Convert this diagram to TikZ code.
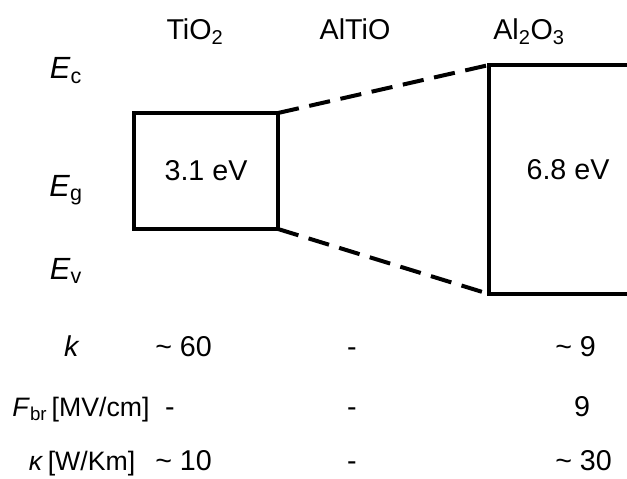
\documentclass[tikz,border=0pt]{standalone}
\usepackage{fontspec}
\setmainfont{Liberation Sans}
\usetikzlibrary{positioning}
\tikzset{
  txt/.style={font=\fontsize{21.5}{25}\selectfont,inner sep=0pt},
  cell/.style={txt,anchor=base},
  lvl/.style={font=\fontsize{23}{27}\selectfont,inner sep=0pt,anchor=base},
  band/.style={draw=black,line width=3pt},
  offset/.style={line width=3pt,dash pattern=on 16pt off 8pt},
}
\newcommand{\sub}[1]{\textsubscript{#1}}

\begin{document}
\begin{tikzpicture}[x=0.75pt,y=-0.75pt]
  \useasboundingbox (0,0) rectangle (627,478);
  % column heads
  \node[cell] (tio-head) at (195,40) {TiO\sub{2}};
  \node[cell] (alti-head) at (355,40) {AlTiO};
  \node[cell] (alo-head) at (529,40) {Al\sub{2}O\sub{3}};
  % energy labels
  \node[lvl] (ec) at (66,79) {\textit{E}\sub{c}};
  \node[lvl] (eg) at (66,196) {\textit{E}\sub{g}};
  \node[lvl] (ev) at (66,279) {\textit{E}\sub{v}};
  % band gaps
  \node[band,txt,outer sep=0pt,minimum width=108pt,minimum height=87pt] (tio) at (206,171) {3.1 eV};
  \draw[band] (630,65) -- (489,65) coordinate (alo-top) -- (489,294) coordinate (alo-bot) -- (630,294);
  \node[txt] (alo) at (568,170) {6.8 eV};
  \draw[offset] (tio.north east) -- (alo-top);
  \draw[offset] (tio.south east) -- (alo-bot);
  % properties
  \node[cell] (k) at (72,356) {\textit{k}};
  \node[cell,anchor=base west] (k-tio) at (155,356) {\textasciitilde\ 60};
  \node[cell] (k-alti) at (352,356) {-};
  \node[cell,anchor=base west] (k-alo) at (555,356) {\textasciitilde\ 9};
  \node[cell,font=\fontsize{20}{24}\selectfont] (fbr) at (81,416) {\textit{F}\sub{br}\,[MV/cm]};
  \node[cell] (fbr-tio) at (170,416) {-};
  \node[cell] (fbr-alti) at (352,416) {-};
  \node[cell] (fbr-alo) at (582,416) {9};
  \node[cell,font=\fontsize{20}{24}\selectfont] (kap) at (82,470) {\textit{κ}\,[W/Km]};
  \node[cell,anchor=base west] (kap-tio) at (155,470) {\textasciitilde\ 10};
  \node[cell] (kap-alti) at (352,470) {-};
  \node[cell,anchor=base west] (kap-alo) at (555,470) {\textasciitilde\ 30};
\end{tikzpicture}
\end{document}
